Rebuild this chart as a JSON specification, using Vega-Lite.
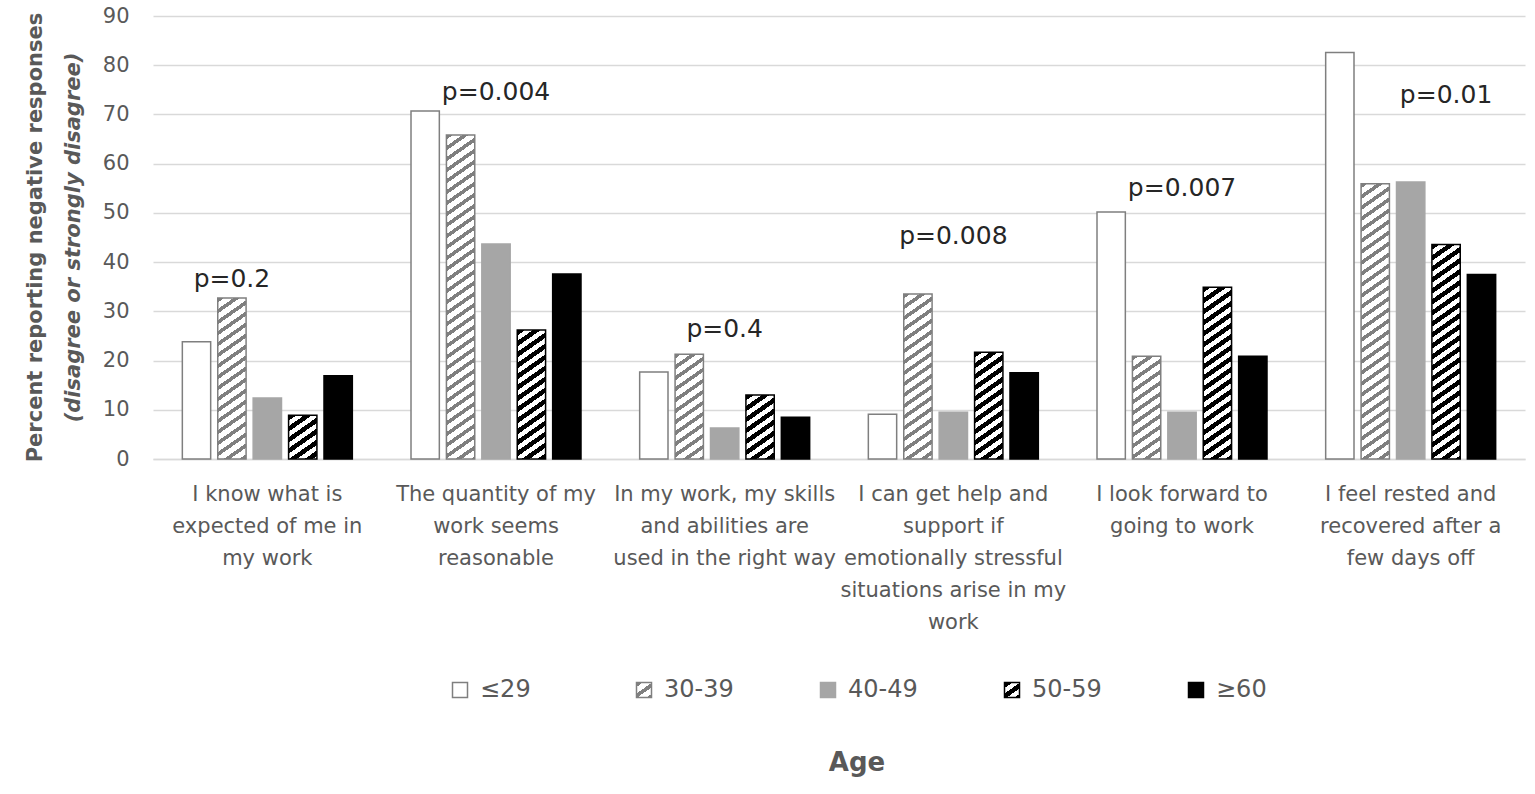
{
  "$schema": "https://vega.github.io/schema/vega-lite/v6.json",
  "width": 1372,
  "height": 443,
  "padding": {"left": 25, "top": 5, "right": 10, "bottom": 10},
  "background": "white",
  "config": {
    "view": {"stroke": null},
    "font": "DejaVu Sans",
    "axis": {"labelColor": "#595959", "labelFont": "DejaVu Sans"}
  },
  "title": {
    "text": "Percent reporting negative responses",
    "subtitle": "(disagree or strongly disagree)",
    "orient": "left",
    "anchor": "middle",
    "frame": "group",
    "offset": 18,
    "fontSize": 21,
    "fontWeight": "bold",
    "color": "#595959",
    "subtitleFontSize": 21,
    "subtitleFontWeight": "bold",
    "subtitleFontStyle": "italic",
    "subtitleColor": "#595959",
    "subtitlePadding": 17
  },
  "params": [
    {"name": "hatchGray", "value": [
      {"offset":0,"color":"#7f7f7f"},{"offset":0.0125,"color":"#7f7f7f"},{"offset":0.0125,"color":"#fff"},
      {"offset":0.03125,"color":"#fff"},{"offset":0.03125,"color":"#7f7f7f"},{"offset":0.04375,"color":"#7f7f7f"},{"offset":0.04375,"color":"#fff"},
      {"offset":0.0625,"color":"#fff"},{"offset":0.0625,"color":"#7f7f7f"},{"offset":0.075,"color":"#7f7f7f"},{"offset":0.075,"color":"#fff"},
      {"offset":0.09375,"color":"#fff"},{"offset":0.09375,"color":"#7f7f7f"},{"offset":0.10625,"color":"#7f7f7f"},{"offset":0.10625,"color":"#fff"},
      {"offset":0.125,"color":"#fff"},{"offset":0.125,"color":"#7f7f7f"},{"offset":0.1375,"color":"#7f7f7f"},{"offset":0.1375,"color":"#fff"},
      {"offset":0.15625,"color":"#fff"},{"offset":0.15625,"color":"#7f7f7f"},{"offset":0.16875,"color":"#7f7f7f"},{"offset":0.16875,"color":"#fff"},
      {"offset":0.1875,"color":"#fff"},{"offset":0.1875,"color":"#7f7f7f"},{"offset":0.2,"color":"#7f7f7f"},{"offset":0.2,"color":"#fff"},
      {"offset":0.21875,"color":"#fff"},{"offset":0.21875,"color":"#7f7f7f"},{"offset":0.23125,"color":"#7f7f7f"},{"offset":0.23125,"color":"#fff"},
      {"offset":0.25,"color":"#fff"},{"offset":0.25,"color":"#7f7f7f"},{"offset":0.2625,"color":"#7f7f7f"},{"offset":0.2625,"color":"#fff"},
      {"offset":0.28125,"color":"#fff"},{"offset":0.28125,"color":"#7f7f7f"},{"offset":0.29375,"color":"#7f7f7f"},{"offset":0.29375,"color":"#fff"},
      {"offset":0.3125,"color":"#fff"},{"offset":0.3125,"color":"#7f7f7f"},{"offset":0.325,"color":"#7f7f7f"},{"offset":0.325,"color":"#fff"},
      {"offset":0.34375,"color":"#fff"},{"offset":0.34375,"color":"#7f7f7f"},{"offset":0.35625,"color":"#7f7f7f"},{"offset":0.35625,"color":"#fff"},
      {"offset":0.375,"color":"#fff"},{"offset":0.375,"color":"#7f7f7f"},{"offset":0.3875,"color":"#7f7f7f"},{"offset":0.3875,"color":"#fff"},
      {"offset":0.40625,"color":"#fff"},{"offset":0.40625,"color":"#7f7f7f"},{"offset":0.41875,"color":"#7f7f7f"},{"offset":0.41875,"color":"#fff"},
      {"offset":0.4375,"color":"#fff"},{"offset":0.4375,"color":"#7f7f7f"},{"offset":0.45,"color":"#7f7f7f"},{"offset":0.45,"color":"#fff"},
      {"offset":0.46875,"color":"#fff"},{"offset":0.46875,"color":"#7f7f7f"},{"offset":0.48125,"color":"#7f7f7f"},{"offset":0.48125,"color":"#fff"},
      {"offset":0.5,"color":"#fff"},{"offset":0.5,"color":"#7f7f7f"},{"offset":0.5125,"color":"#7f7f7f"},{"offset":0.5125,"color":"#fff"},
      {"offset":0.53125,"color":"#fff"},{"offset":0.53125,"color":"#7f7f7f"},{"offset":0.54375,"color":"#7f7f7f"},{"offset":0.54375,"color":"#fff"},
      {"offset":0.5625,"color":"#fff"},{"offset":0.5625,"color":"#7f7f7f"},{"offset":0.575,"color":"#7f7f7f"},{"offset":0.575,"color":"#fff"},
      {"offset":0.59375,"color":"#fff"},{"offset":0.59375,"color":"#7f7f7f"},{"offset":0.60625,"color":"#7f7f7f"},{"offset":0.60625,"color":"#fff"},
      {"offset":0.625,"color":"#fff"},{"offset":0.625,"color":"#7f7f7f"},{"offset":0.6375,"color":"#7f7f7f"},{"offset":0.6375,"color":"#fff"},
      {"offset":0.65625,"color":"#fff"},{"offset":0.65625,"color":"#7f7f7f"},{"offset":0.66875,"color":"#7f7f7f"},{"offset":0.66875,"color":"#fff"},
      {"offset":0.6875,"color":"#fff"},{"offset":0.6875,"color":"#7f7f7f"},{"offset":0.7,"color":"#7f7f7f"},{"offset":0.7,"color":"#fff"},
      {"offset":0.71875,"color":"#fff"},{"offset":0.71875,"color":"#7f7f7f"},{"offset":0.73125,"color":"#7f7f7f"},{"offset":0.73125,"color":"#fff"},
      {"offset":0.75,"color":"#fff"},{"offset":0.75,"color":"#7f7f7f"},{"offset":0.7625,"color":"#7f7f7f"},{"offset":0.7625,"color":"#fff"},
      {"offset":0.78125,"color":"#fff"},{"offset":0.78125,"color":"#7f7f7f"},{"offset":0.79375,"color":"#7f7f7f"},{"offset":0.79375,"color":"#fff"},
      {"offset":0.8125,"color":"#fff"},{"offset":0.8125,"color":"#7f7f7f"},{"offset":0.825,"color":"#7f7f7f"},{"offset":0.825,"color":"#fff"},
      {"offset":0.84375,"color":"#fff"},{"offset":0.84375,"color":"#7f7f7f"},{"offset":0.85625,"color":"#7f7f7f"},{"offset":0.85625,"color":"#fff"},
      {"offset":0.875,"color":"#fff"},{"offset":0.875,"color":"#7f7f7f"},{"offset":0.8875,"color":"#7f7f7f"},{"offset":0.8875,"color":"#fff"},
      {"offset":0.90625,"color":"#fff"},{"offset":0.90625,"color":"#7f7f7f"},{"offset":0.91875,"color":"#7f7f7f"},{"offset":0.91875,"color":"#fff"},
      {"offset":0.9375,"color":"#fff"},{"offset":0.9375,"color":"#7f7f7f"},{"offset":0.95,"color":"#7f7f7f"},{"offset":0.95,"color":"#fff"},
      {"offset":0.96875,"color":"#fff"},{"offset":0.96875,"color":"#7f7f7f"},{"offset":0.98125,"color":"#7f7f7f"},{"offset":0.98125,"color":"#fff"}
    ]},
    {"name": "hatchBlack", "value": [
      {"offset":0,"color":"#000"},{"offset":0.015625,"color":"#000"},{"offset":0.015625,"color":"#fff"},
      {"offset":0.03125,"color":"#fff"},{"offset":0.03125,"color":"#000"},{"offset":0.046875,"color":"#000"},{"offset":0.046875,"color":"#fff"},
      {"offset":0.0625,"color":"#fff"},{"offset":0.0625,"color":"#000"},{"offset":0.078125,"color":"#000"},{"offset":0.078125,"color":"#fff"},
      {"offset":0.09375,"color":"#fff"},{"offset":0.09375,"color":"#000"},{"offset":0.109375,"color":"#000"},{"offset":0.109375,"color":"#fff"},
      {"offset":0.125,"color":"#fff"},{"offset":0.125,"color":"#000"},{"offset":0.140625,"color":"#000"},{"offset":0.140625,"color":"#fff"},
      {"offset":0.15625,"color":"#fff"},{"offset":0.15625,"color":"#000"},{"offset":0.171875,"color":"#000"},{"offset":0.171875,"color":"#fff"},
      {"offset":0.1875,"color":"#fff"},{"offset":0.1875,"color":"#000"},{"offset":0.203125,"color":"#000"},{"offset":0.203125,"color":"#fff"},
      {"offset":0.21875,"color":"#fff"},{"offset":0.21875,"color":"#000"},{"offset":0.234375,"color":"#000"},{"offset":0.234375,"color":"#fff"},
      {"offset":0.25,"color":"#fff"},{"offset":0.25,"color":"#000"},{"offset":0.265625,"color":"#000"},{"offset":0.265625,"color":"#fff"},
      {"offset":0.28125,"color":"#fff"},{"offset":0.28125,"color":"#000"},{"offset":0.296875,"color":"#000"},{"offset":0.296875,"color":"#fff"},
      {"offset":0.3125,"color":"#fff"},{"offset":0.3125,"color":"#000"},{"offset":0.328125,"color":"#000"},{"offset":0.328125,"color":"#fff"},
      {"offset":0.34375,"color":"#fff"},{"offset":0.34375,"color":"#000"},{"offset":0.359375,"color":"#000"},{"offset":0.359375,"color":"#fff"},
      {"offset":0.375,"color":"#fff"},{"offset":0.375,"color":"#000"},{"offset":0.390625,"color":"#000"},{"offset":0.390625,"color":"#fff"},
      {"offset":0.40625,"color":"#fff"},{"offset":0.40625,"color":"#000"},{"offset":0.421875,"color":"#000"},{"offset":0.421875,"color":"#fff"},
      {"offset":0.4375,"color":"#fff"},{"offset":0.4375,"color":"#000"},{"offset":0.453125,"color":"#000"},{"offset":0.453125,"color":"#fff"},
      {"offset":0.46875,"color":"#fff"},{"offset":0.46875,"color":"#000"},{"offset":0.484375,"color":"#000"},{"offset":0.484375,"color":"#fff"},
      {"offset":0.5,"color":"#fff"},{"offset":0.5,"color":"#000"},{"offset":0.515625,"color":"#000"},{"offset":0.515625,"color":"#fff"},
      {"offset":0.53125,"color":"#fff"},{"offset":0.53125,"color":"#000"},{"offset":0.546875,"color":"#000"},{"offset":0.546875,"color":"#fff"},
      {"offset":0.5625,"color":"#fff"},{"offset":0.5625,"color":"#000"},{"offset":0.578125,"color":"#000"},{"offset":0.578125,"color":"#fff"},
      {"offset":0.59375,"color":"#fff"},{"offset":0.59375,"color":"#000"},{"offset":0.609375,"color":"#000"},{"offset":0.609375,"color":"#fff"},
      {"offset":0.625,"color":"#fff"},{"offset":0.625,"color":"#000"},{"offset":0.640625,"color":"#000"},{"offset":0.640625,"color":"#fff"},
      {"offset":0.65625,"color":"#fff"},{"offset":0.65625,"color":"#000"},{"offset":0.671875,"color":"#000"},{"offset":0.671875,"color":"#fff"},
      {"offset":0.6875,"color":"#fff"},{"offset":0.6875,"color":"#000"},{"offset":0.703125,"color":"#000"},{"offset":0.703125,"color":"#fff"},
      {"offset":0.71875,"color":"#fff"},{"offset":0.71875,"color":"#000"},{"offset":0.734375,"color":"#000"},{"offset":0.734375,"color":"#fff"},
      {"offset":0.75,"color":"#fff"},{"offset":0.75,"color":"#000"},{"offset":0.765625,"color":"#000"},{"offset":0.765625,"color":"#fff"},
      {"offset":0.78125,"color":"#fff"},{"offset":0.78125,"color":"#000"},{"offset":0.796875,"color":"#000"},{"offset":0.796875,"color":"#fff"},
      {"offset":0.8125,"color":"#fff"},{"offset":0.8125,"color":"#000"},{"offset":0.828125,"color":"#000"},{"offset":0.828125,"color":"#fff"},
      {"offset":0.84375,"color":"#fff"},{"offset":0.84375,"color":"#000"},{"offset":0.859375,"color":"#000"},{"offset":0.859375,"color":"#fff"},
      {"offset":0.875,"color":"#fff"},{"offset":0.875,"color":"#000"},{"offset":0.890625,"color":"#000"},{"offset":0.890625,"color":"#fff"},
      {"offset":0.90625,"color":"#fff"},{"offset":0.90625,"color":"#000"},{"offset":0.921875,"color":"#000"},{"offset":0.921875,"color":"#fff"},
      {"offset":0.9375,"color":"#fff"},{"offset":0.9375,"color":"#000"},{"offset":0.953125,"color":"#000"},{"offset":0.953125,"color":"#fff"},
      {"offset":0.96875,"color":"#fff"},{"offset":0.96875,"color":"#000"},{"offset":0.984375,"color":"#000"},{"offset":0.984375,"color":"#fff"}
    ]}
  ],
  "layer": [
    {
      "data": {"values": [
        {"question": "I know what is expected of me in my work", "age": "≤29", "pct": 23.8},
        {"question": "I know what is expected of me in my work", "age": "30-39", "pct": 32.7},
        {"question": "I know what is expected of me in my work", "age": "40-49", "pct": 12.4},
        {"question": "I know what is expected of me in my work", "age": "50-59", "pct": 8.9},
        {"question": "I know what is expected of me in my work", "age": "≥60", "pct": 16.9},
        {"question": "The quantity of my work seems reasonable", "age": "≤29", "pct": 70.7},
        {"question": "The quantity of my work seems reasonable", "age": "30-39", "pct": 65.8},
        {"question": "The quantity of my work seems reasonable", "age": "40-49", "pct": 43.7},
        {"question": "The quantity of my work seems reasonable", "age": "50-59", "pct": 26.2},
        {"question": "The quantity of my work seems reasonable", "age": "≥60", "pct": 37.6},
        {"question": "In my work, my skills and abilities are used in the right way", "age": "≤29", "pct": 17.7},
        {"question": "In my work, my skills and abilities are used in the right way", "age": "30-39", "pct": 21.3},
        {"question": "In my work, my skills and abilities are used in the right way", "age": "40-49", "pct": 6.3},
        {"question": "In my work, my skills and abilities are used in the right way", "age": "50-59", "pct": 13.0},
        {"question": "In my work, my skills and abilities are used in the right way", "age": "≥60", "pct": 8.5},
        {"question": "I can get help and support if emotionally stressful situations arise in my work", "age": "≤29", "pct": 9.1},
        {"question": "I can get help and support if emotionally stressful situations arise in my work", "age": "30-39", "pct": 33.5},
        {"question": "I can get help and support if emotionally stressful situations arise in my work", "age": "40-49", "pct": 9.5},
        {"question": "I can get help and support if emotionally stressful situations arise in my work", "age": "50-59", "pct": 21.7},
        {"question": "I can get help and support if emotionally stressful situations arise in my work", "age": "≥60", "pct": 17.5},
        {"question": "I look forward to going to work", "age": "≤29", "pct": 50.2},
        {"question": "I look forward to going to work", "age": "30-39", "pct": 20.9},
        {"question": "I look forward to going to work", "age": "40-49", "pct": 9.5},
        {"question": "I look forward to going to work", "age": "50-59", "pct": 34.9},
        {"question": "I look forward to going to work", "age": "≥60", "pct": 20.9},
        {"question": "I feel rested and recovered after a few days off", "age": "≤29", "pct": 82.6},
        {"question": "I feel rested and recovered after a few days off", "age": "30-39", "pct": 55.9},
        {"question": "I feel rested and recovered after a few days off", "age": "40-49", "pct": 56.3},
        {"question": "I feel rested and recovered after a few days off", "age": "50-59", "pct": 43.6},
        {"question": "I feel rested and recovered after a few days off", "age": "≥60", "pct": 37.5}
      ]},
      "mark": {"type": "bar", "strokeWidth": 1.5},
      "encoding": {
        "x": {
          "field": "question", "type": "nominal", "title": null,
          "scale": {
            "domain": [
              "I know what is expected of me in my work",
              "The quantity of my work seems reasonable",
              "In my work, my skills and abilities are used in the right way",
              "I can get help and support if emotionally stressful situations arise in my work",
              "I look forward to going to work",
              "I feel rested and recovered after a few days off"
            ],
            "paddingInner": 0.2566, "paddingOuter": 0.1283
          },
          "axis": {
            "labelAngle": 0, "ticks": false, "domainColor": "#d9d9d9", "domainWidth": 1.5,
            "labelFontSize": 21, "labelLineHeight": 32, "labelPadding": 24, "labelLimit": 400,
            "labelOverlap": false, "labelBaseline": "top",
            "labelExpr": "{'I know what is expected of me in my work': ['I know what is', 'expected of me in', 'my work'], 'The quantity of my work seems reasonable': ['The quantity of my', 'work seems', 'reasonable'], 'In my work, my skills and abilities are used in the right way': ['In my work, my skills', 'and abilities are', 'used in the right way'], 'I can get help and support if emotionally stressful situations arise in my work': ['I can get help and', 'support if', 'emotionally stressful', 'situations arise in my', 'work'], 'I look forward to going to work': ['I look forward to', 'going to work'], 'I feel rested and recovered after a few days off': ['I feel rested and', 'recovered after a', 'few days off']}[datum.label]"
          }
        },
        "xOffset": {
          "field": "age", "type": "nominal",
          "scale": {"domain": ["≤29", "30-39", "40-49", "50-59", "≥60"], "paddingInner": 0.2, "paddingOuter": 0}
        },
        "y": {
          "field": "pct", "type": "quantitative", "title": null,
          "scale": {"domain": [0, 90]},
          "axis": {
            "values": [0, 10, 20, 30, 40, 50, 60, 70, 80, 90],
            "domain": false, "ticks": false, "gridColor": "#d9d9d9", "gridWidth": 1.5,
            "labelFontSize": 21, "labelPadding": 24
          }
        },
        "fill": {
          "field": "age", "type": "nominal",
          "scale": {
            "domain": ["≤29", "30-39", "40-49", "50-59", "≥60"],
            "range": [
              "#ffffff",
              {"expr": "{gradient: 'linear', x1: 0, y1: 0, x2: 0.7, y2: 1, stops: [{offset: 0, color: '#7f7f7f'}, {offset: 0.2, color: '#7f7f7f'}, {offset: 0.2, color: '#fff'}, {offset: 0.49, color: '#fff'}, {offset: 0.49, color: '#7f7f7f'}, {offset: 0.69, color: '#7f7f7f'}, {offset: 0.69, color: '#fff'}, {offset: 0.98, color: '#fff'}, {offset: 0.98, color: '#7f7f7f'}]}"},
              "#a6a6a6",
              {"expr": "{gradient: 'linear', x1: 0, y1: 0, x2: 0.7, y2: 1, stops: [{offset: 0, color: '#000'}, {offset: 0.25, color: '#000'}, {offset: 0.25, color: '#fff'}, {offset: 0.49, color: '#fff'}, {offset: 0.49, color: '#000'}, {offset: 0.74, color: '#000'}, {offset: 0.74, color: '#fff'}, {offset: 0.98, color: '#fff'}, {offset: 0.98, color: '#000'}]}"},
              "#000000"
            ]
          },
          "condition": [
            {"test": "datum.age === '30-39'", "value": {"expr": "{gradient: 'linear', x1: 0, y1: 0, x2: 246.4 * bandwidth('xOffset') / (0.49 * pow(bandwidth('xOffset'), 2) + pow(scale('y', 0) - scale('y', datum.pct), 2)), y2: 352 * (scale('y', 0) - scale('y', datum.pct)) / (0.49 * pow(bandwidth('xOffset'), 2) + pow(scale('y', 0) - scale('y', datum.pct), 2)), stops: hatchGray}"}},
            {"test": "datum.age === '50-59'", "value": {"expr": "{gradient: 'linear', x1: 0, y1: 0, x2: 246.4 * bandwidth('xOffset') / (0.49 * pow(bandwidth('xOffset'), 2) + pow(scale('y', 0) - scale('y', datum.pct), 2)), y2: 352 * (scale('y', 0) - scale('y', datum.pct)) / (0.49 * pow(bandwidth('xOffset'), 2) + pow(scale('y', 0) - scale('y', datum.pct), 2)), stops: hatchBlack}"}}
          ],
          "legend": {
            "title": "Age", "orient": "none", "legendX": 295, "legendY": 662,
            "direction": "horizontal", "titleOrient": "bottom", "titleAnchor": "middle",
            "titleFontSize": 26, "titleFontWeight": "bold", "titleColor": "#595959", "titlePadding": 48,
            "labelFontSize": 24, "labelColor": "#595959", "labelOffset": 8,
            "symbolType": "square", "symbolSize": 225, "symbolStrokeWidth": 1.5,
            "columnPadding": 82, "gridAlign": "all"
          }
        },
        "stroke": {
          "field": "age", "type": "nominal",
          "scale": {"domain": ["≤29", "30-39", "40-49", "50-59", "≥60"], "range": ["#7f7f7f", "#7f7f7f", "#a6a6a6", "#000000", "#000000"]}
        }
      }
    },
    {
      "data": {"values": [
        {"question": "I know what is expected of me in my work", "label": "p=0.2", "over": "30-39", "ypos": 36.6},
        {"question": "The quantity of my work seems reasonable", "label": "p=0.004", "over": "40-49", "ypos": 74.6},
        {"question": "In my work, my skills and abilities are used in the right way", "label": "p=0.4", "over": "40-49", "ypos": 26.4},
        {"question": "I can get help and support if emotionally stressful situations arise in my work", "label": "p=0.008", "over": "40-49", "ypos": 45.3},
        {"question": "I look forward to going to work", "label": "p=0.007", "over": "40-49", "ypos": 55.1},
        {"question": "I feel rested and recovered after a few days off", "label": "p=0.01", "over": "50-59", "ypos": 74.0}
      ]},
      "mark": {"type": "text", "fontSize": 25, "color": "#262626", "baseline": "middle"},
      "encoding": {
        "x": {"field": "question", "type": "nominal", "title": null},
        "xOffset": {"field": "over", "type": "nominal"},
        "y": {"field": "ypos", "type": "quantitative", "title": null},
        "text": {"field": "label"}
      }
    }
  ]
}
